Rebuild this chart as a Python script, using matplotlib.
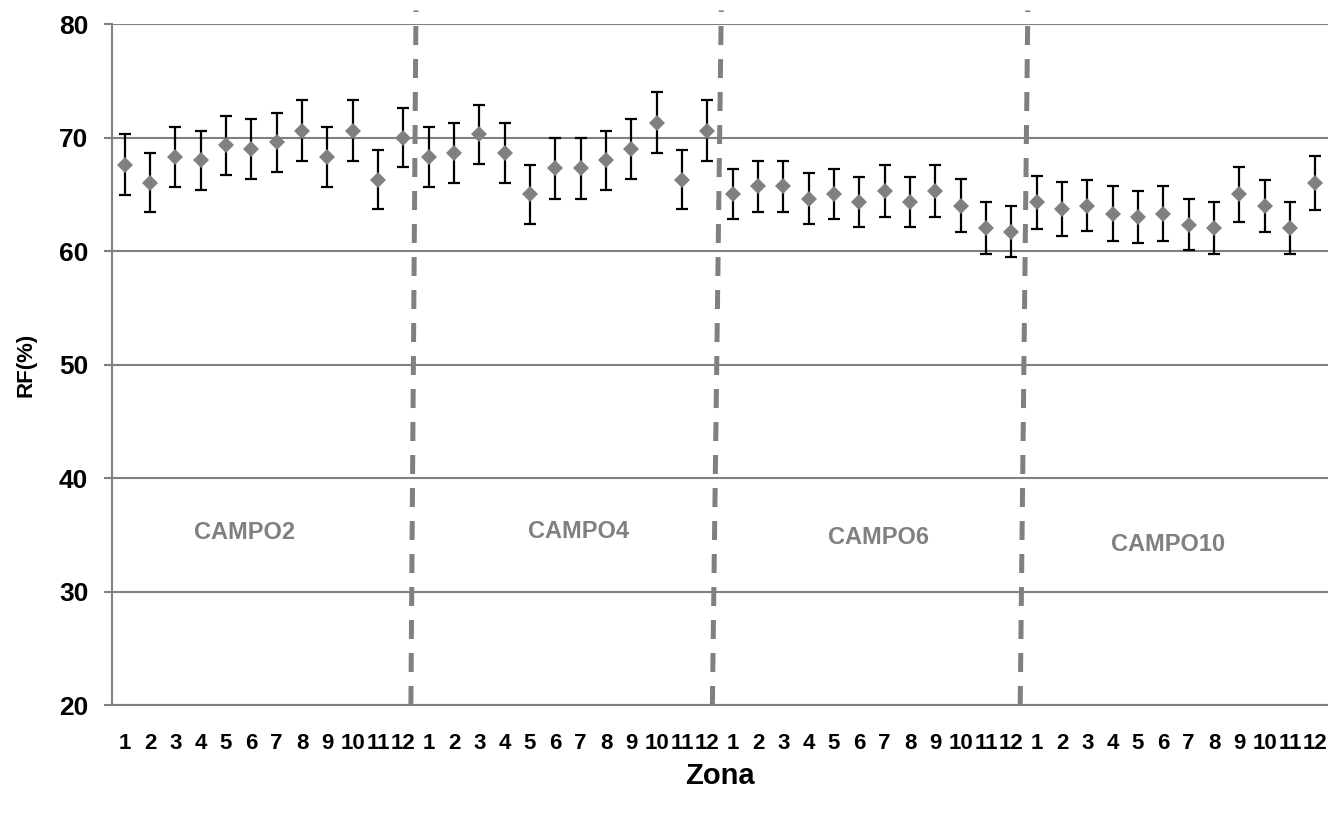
import numpy as np
import matplotlib.pyplot as plt

# Data
zonas = list(range(1, 13))
campos = ['CAMPO2', 'CAMPO4', 'CAMPO6', 'CAMPO10']

rf_campo2 = [67.6, 66.0, 68.3, 68.0, 69.3, 69.0, 69.6, 70.6, 68.3, 70.6, 66.3, 70.0]
rf_campo4 = [68.3, 68.6, 70.3, 68.6, 65.0, 67.3, 67.3, 68.0, 69.0, 71.3, 66.3, 70.6]
rf_campo6 = [65.0, 65.7, 65.7, 64.6, 65.0, 64.3, 65.3, 64.3, 65.3, 64.0, 62.0, 61.7]
rf_campo10 = [64.3, 63.7, 64.0, 63.3, 63.0, 63.3, 62.3, 62.0, 65.0, 64.0, 62.0, 66.0]

err_campo2 = [2.7, 2.6, 2.65, 2.6, 2.6, 2.65, 2.6, 2.7, 2.65, 2.7, 2.6, 2.6]
err_campo4 = [2.65, 2.65, 2.6, 2.65, 2.6, 2.7, 2.7, 2.6, 2.65, 2.7, 2.6, 2.7]
err_campo6 = [2.2, 2.25, 2.25, 2.25, 2.2, 2.2, 2.3, 2.2, 2.3, 2.35, 2.3, 2.25]
err_campo10 = [2.35, 2.35, 2.25, 2.4, 2.3, 2.4, 2.25, 2.3, 2.4, 2.3, 2.3, 2.35]

rf = rf_campo2 + rf_campo4 + rf_campo6 + rf_campo10
err = err_campo2 + err_campo4 + err_campo6 + err_campo10
x = np.arange(1, len(rf) + 1)
xlabels = [str(z) for z in zonas] * len(campos)

gray = '#808080'
plt.rcParams['font.family'] = ['Liberation Sans', 'DejaVu Sans']

fig = plt.figure(figsize=(13.28, 8.14), dpi=100)
ax = fig.add_axes([0.0843, 0.1339, 0.9157, 0.8366])

ax.errorbar(x, rf, yerr=err, fmt='none', ecolor='black', elinewidth=1.6,
            capsize=4, capthick=1.6, zorder=3)
ax.plot(x, rf, 'D', color=gray, markersize=8.6, markeredgewidth=0, zorder=4)

# Dashed separators between campos (slightly slanted like the original)
n = len(zonas)
tilt = [(-0.2, 0.0), (-0.3, 0.05), (-0.15, 0.15)]
for i, (db, dt) in enumerate(tilt):
    b = n * (i + 1) + 0.5
    ax.plot([b + db, b + dt], [20, 81.2], color=gray, lw=3.6,
            linestyle=(0, (3.8, 2.8)), clip_on=False, zorder=2)

# Campo labels
label_y = [35.2, 35.3, 34.8, 34.1]
label_dx = [-0.75, 0.4, 0.25, -0.3]
for i, name in enumerate(campos):
    cx = n * i + (n + 1) / 2 + label_dx[i]
    ax.text(cx, label_y[i], name, color=gray, fontsize=17, fontweight='bold',
            ha='center', va='center')

ax.set_xlim(0.5, 48.5)
ax.set_ylim(20, 80)
ax.set_yticks(range(20, 81, 10))
ax.set_xticks(x)
ax.set_xticklabels(xlabels)
ax.tick_params(axis='x', length=0, pad=20, labelsize=16)
ax.tick_params(axis='y', length=6, width=1.5, color=gray, pad=11, labelsize=19)
for lab in ax.get_xticklabels() + ax.get_yticklabels():
    lab.set_fontweight('bold')

ax.grid(axis='y', color=gray, lw=1.5)
ax.set_axisbelow(True)
for s in ['top', 'right']:
    ax.spines[s].set_visible(False)
for s in ['left', 'bottom']:
    ax.spines[s].set_color(gray)
    ax.spines[s].set_linewidth(1.5)

ax.set_xlabel('Zona', fontsize=21, fontweight='bold', labelpad=6)
ax.set_ylabel('RF(%)', fontsize=16, fontweight='bold', labelpad=16)

fig.savefig('out.png', dpi=100)
